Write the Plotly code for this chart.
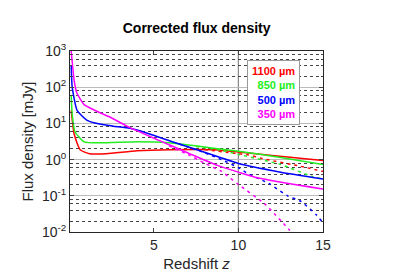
import plotly.graph_objects as go

# ---- data ----
z_red = [0.12, 0.3, 0.65, 1.2, 2.2, 4.0, 6.0, 8.8, 10.0, 12.0, 15.0]
f_red = [23, 5.0, 1.87, 1.45, 1.45, 1.75, 1.87, 1.85, 1.62, 1.3, 0.94]
z_red_d = [8.0, 10.0, 10.6, 11.4, 13.7, 15.0]
f_red_d = [1.9, 1.45, 1.35, 1.07, 0.65, 0.47]

z_green = [0.12, 0.18, 0.35, 0.88, 1.8, 4.0, 5.9, 8.8, 10.0, 12.5, 15.0]
f_green = [62, 17.8, 5.8, 3.1, 2.9, 3.1, 2.9, 2.0, 1.7, 1.15, 0.73]
z_green_d = [7.5, 9.0, 10.0, 12.5, 14.3, 15.0]
f_green_d = [2.3, 1.8, 1.4, 0.73, 0.35, 0.29]

z_blue = [0.12, 0.18, 0.47, 1.06, 1.8, 2.6, 3.6, 4.7, 6.5, 8.8, 10.0, 12.5, 15.0]
f_blue = [400, 100, 22.8, 12.2, 9.6, 8.4, 7.3, 5.2, 2.7, 1.2, 0.78, 0.45, 0.29]
z_blue_d = [6.5, 8.0, 9.0, 10.0, 10.6, 11.8, 12.9, 13.7, 14.6, 15.0]
f_blue_d = [2.7, 1.55, 1.0, 0.6, 0.4, 0.22, 0.1, 0.07, 0.03, 0.018]

z_mag = [0.12, 0.3, 0.45, 0.88, 1.6, 2.4, 3.5, 5.3, 7.06, 8.8, 10.0, 11.18, 15.0]
f_mag = [1000, 150, 70, 33, 22, 15, 8.0, 3.4, 1.5, 0.68, 0.45, 0.31, 0.153]
z_mag_d = [5.9, 7.06, 8.0, 9.0, 10.0, 11.57, 13.04]
f_mag_d = [2.4, 1.35, 0.8, 0.47, 0.205, 0.059, 0.011]

labels = ["1100 µm", "850 µm", "500 µm", "350 µm"]
colors = ["#ff0000", "#22ee22", "#0000ff", "#ff00ff"]

ytick_vals = [0.01, 0.1, 1, 10, 100, 1000]
ytick_text = ["10<sup>-2</sup>", "10<sup>-1</sup>", "10<sup>0</sup>",
              "10<sup>1</sup>", "10<sup>2</sup>", "10<sup>3</sup>"]
xtick_vals = [5, 10, 15]

series = [
    (z_red, f_red, z_red_d, f_red_d),
    (z_green, f_green, z_green_d, f_green_d),
    (z_blue, f_blue, z_blue_d, f_blue_d),
    (z_mag, f_mag, z_mag_d, f_mag_d),
]

fig = go.Figure()
for (zs, fs, zd, fd), lab, col in zip(series, labels, colors):
    fig.add_trace(go.Scatter(x=zs, y=fs, mode="lines", name=lab,
                             line=dict(color=col, width=1.5, shape="spline", smoothing=0.5),
                             showlegend=False))
    fig.add_trace(go.Scatter(x=zd, y=fd, mode="lines", name=lab + " corr",
                             line=dict(color=col, width=1.5, dash="3px,4px", shape="spline", smoothing=0.5),
                             showlegend=False))

minor_vals = [m * 10.0 ** k for k in range(-2, 3) for m in (2, 4, 6, 8)]

fig.add_shape(type="line", x0=10, x1=10, y0=0, y1=1, xref="x", yref="paper",
              line=dict(color="#888888", width=1.2), layer="below")

legend_text = "<br>".join(
    f"<span style='color:{c}'><b>{l}</b></span>" for l, c in zip(labels, colors)
)
fig.add_annotation(text=legend_text, xref="paper", yref="paper", x=0.806, y=0.77,
                   xanchor="center", yanchor="middle", showarrow=False, align="right",
                   font=dict(family="Liberation Sans, Arial", size=11),
                   bgcolor="white", bordercolor="#999999", borderwidth=1, borderpad=4)

fig.update_layout(
    width=393, height=273,
    margin=dict(l=62, r=78, t=43, b=46),
    paper_bgcolor="white", plot_bgcolor="white",
    font=dict(family="Liberation Sans, Arial", color="#262626", size=13),
    title=dict(text="<b>Corrected flux density</b>", x=0.48, xanchor="center", y=0.925, yanchor="middle",
               font=dict(size=14, color="#000000")),
    xaxis=dict(range=[0.05, 15], tickvals=xtick_vals, ticks="inside", ticklen=4,
               showgrid=False, zeroline=False, showline=True, linecolor="#262626", linewidth=1,
               mirror="ticks", tickfont=dict(size=14),
               title=dict(text="Redshift <i>z</i>", font=dict(size=15), standoff=6)),
    yaxis=dict(type="log", range=[-2, 3], tickvals=ytick_vals, ticktext=ytick_text,
               ticks="inside", ticklen=4,
               showgrid=True, gridcolor="#bbbbbb", gridwidth=1, zeroline=False,
               showline=True, linecolor="#262626", linewidth=1, mirror="ticks",
               tickfont=dict(size=14),
               minor=dict(tickmode="array", tickvals=minor_vals, showgrid=True,
                          gridcolor="#444444", griddash="dot", gridwidth=1,
                          ticks="inside", ticklen=2),
               title=dict(text="Flux density [mJy]", font=dict(size=15), standoff=4)),
)

fig.write_html("out.html")
